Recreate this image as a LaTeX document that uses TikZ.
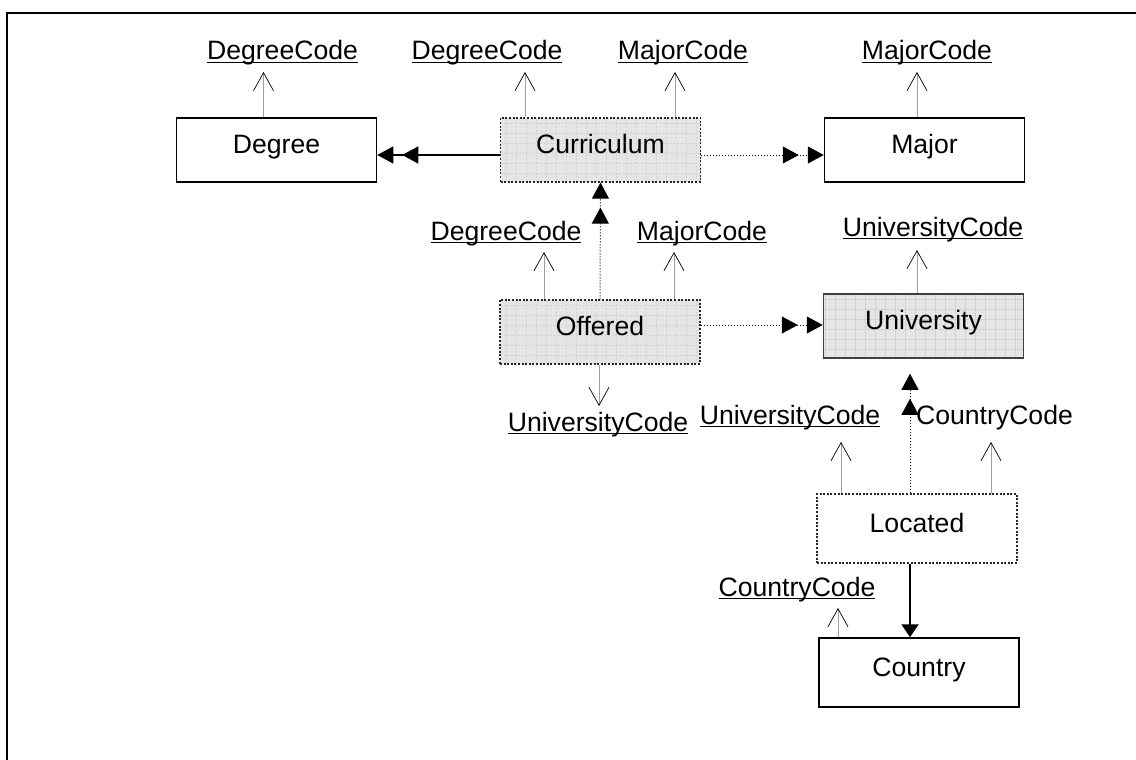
\documentclass[tikz,border=0pt]{standalone}
\usepackage{fontspec}
\setmainfont{Liberation Sans}
\usetikzlibrary{arrows.meta}
\newlength{\du}
\setlength{\du}{0.5pt}
\newcommand{\pkey}[1]{\setbox0\hbox{#1}\rlap{\rule[-1.6pt]{\wd0}{0.75pt}}\box0}
\tikzset{
  every node/.style={font=\fontsize{13.3}{16}\selectfont},
  entity/.style={rectangle, draw=black, line width=0.75pt, fill=white,
    minimum width=200\du, minimum height=64\du, inner sep=0pt,
    text height=10pt, text depth=6.5pt},
  relship/.style={entity, draw=black!85, dash pattern=on 1pt off 0.8pt, line width=0.6pt},
  shaded/.style={fill=gray!20, path picture={
    \draw[gray!35, line width=0.3pt] (path picture bounding box.south west)
      grid[step=5pt] (path picture bounding box.north east);}},
  attr/.style={anchor=base, inner sep=0pt},
  stub/.style={draw=gray!75, line width=0.5pt,
    -{Straight Barb[length=9pt, width=10pt, color=black, line width=0.35pt]}},
  dtip/.style={-{Triangle[length=8pt, width=8.5pt, sep=4.5pt]Triangle[length=8pt, width=8.5pt]}},
  tie/.style={draw=black, line width=0.6pt, dtip},
  weak/.style={draw=black, line width=0.5pt, densely dotted, dtip},
}
\begin{document}
\begin{tikzpicture}
\pgftransformyscale{-1.000000}
\useasboundingbox (0\du,0\du) rectangle (1136\du,760\du);
% frame
\draw[line width=1pt] (6.5\du,760\du) -- (6.5\du,12.5\du) -- (1136\du,12.5\du);
% entities and relationships
\node[entity] (degree) at (276.5\du,150\du) {Degree};
\node[relship, shaded] (curriculum) at (600.5\du,150\du) {Curriculum};
\node[entity] (major) at (924.5\du,150\du) {Major};
\node[relship, shaded] (offered) at (600\du,332\du) {Offered};
\node[entity, shaded, draw=black!75] (university) at (923.5\du,326\du) {University};
\node[relship, minimum height=69\du] (located) at (917\du,528.5\du) {Located};
\node[entity, minimum height=69\du] (country) at (919\du,672.5\du) {Country};
% attributes
\node[attr] (dcDegree) at (282.5\du,60\du) {\pkey{DegreeCode}};
\node[attr] (dcCurriculum) at (487\du,60\du) {\pkey{DegreeCode}};
\node[attr] (mcCurriculum) at (683\du,60\du) {\pkey{MajorCode}};
\node[attr] (mcMajor) at (927\du,60\du) {\pkey{MajorCode}};
\node[attr] (dcOffered) at (506\du,240\du) {\pkey{DegreeCode}};
\node[attr] (mcOffered) at (702\du,240\du) {\pkey{MajorCode}};
\node[attr] (ucUniversity) at (933\du,236\du) {\pkey{UniversityCode}};
\node[attr] (ucOffered) at (598\du,431\du) {\pkey{UniversityCode}};
\node[attr] (ucLocated) at (790\du,424\du) {\pkey{UniversityCode}};
\node[attr] (ccLocated) at (994.5\du,424\du) {CountryCode};
\node[attr] (ccCountry) at (797\du,596\du) {\pkey{CountryCode}};
% stub ends
\coordinate (tDegree) at (263.5\du,72\du);
\coordinate (tCurrA) at (525\du,72\du);
\coordinate (tCurrB) at (675\du,72\du);
\coordinate (tMajor) at (917\du,72\du);
\coordinate (tOffA) at (544\du,252\du);
\coordinate (tOffB) at (674\du,252\du);
\coordinate (tOffC) at (599\du,406\du);
\coordinate (tUniv) at (917\du,250\du);
\coordinate (tLocA) at (841\du,442\du);
\coordinate (tLocB) at (991\du,442\du);
\coordinate (tCountry) at (838\du,608\du);
\draw[stub] (degree.north -| tDegree) -- (tDegree);
\draw[stub] (curriculum.north -| tCurrA) -- (tCurrA);
\draw[stub] (curriculum.north -| tCurrB) -- (tCurrB);
\draw[stub] (major.north -| tMajor) -- (tMajor);
\draw[stub] (offered.north -| tOffA) -- (tOffA);
\draw[stub] (offered.north -| tOffB) -- (tOffB);
\draw[stub] (offered.south -| tOffC) -- (tOffC);
\draw[stub] (university.north -| tUniv) -- (tUniv);
\draw[stub] (located.north -| tLocA) -- (tLocA);
\draw[stub] (located.north -| tLocB) -- (tLocB);
\draw[stub] (country.north -| tCountry) -- (tCountry);
% links
\coordinate (yTop) at (0\du,155\du);
\coordinate (yMid) at (0\du,325\du);
\coordinate (xLoc) at (910\du,0\du);
\draw[tie] (curriculum.west |- yTop) -- (degree.east |- yTop);
\draw[weak] (curriculum.east |- yTop) -- (major.west |- yTop);
\draw[weak] (offered.north) -- (curriculum.south);
\draw[weak] (offered.east |- yMid) -- (university.west |- yMid);
\draw[weak, shorten >=15\du] (located.north -| xLoc) -- (university.south -| xLoc);
\draw[line width=1pt, -{Triangle[length=6.5pt, width=8.5pt]}] (located.south -| xLoc) -- (country.north -| xLoc);
\end{tikzpicture}
\end{document}
